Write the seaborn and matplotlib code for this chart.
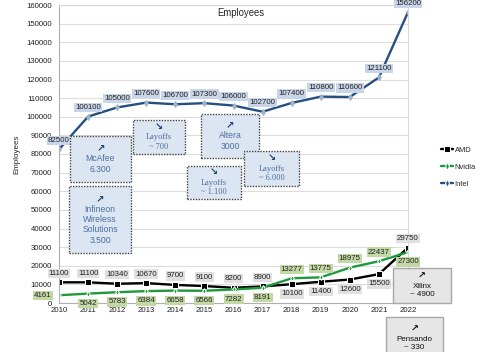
import matplotlib
matplotlib.use("Agg")
import matplotlib.pyplot as plt
import seaborn as sns
import pandas as pd
from matplotlib.patches import Rectangle

years = list(range(2010, 2023))
intel = [82500, 100100, 105000, 107600, 106700, 107300, 106000, 102700, 107400, 110800, 110600, 121100, 156200]
amd = [11100, 11100, 10340, 10670, 9700, 9100, 8200, 8900, 10100, 11400, 12600, 15500, 29750]
nvidia = [4161, 5042, 5783, 6384, 6658, 6566, 7282, 8191, 13277, 13775, 18975, 22437, 27300]
series_names = ["AMD", "Nvidia", "Intel"]
yticks = list(range(0, 160001, 10000))

df = pd.concat([
    pd.DataFrame({"Year": years, "Employees": amd, "Company": "AMD"}),
    pd.DataFrame({"Year": years, "Employees": nvidia, "Company": "Nvidia"}),
    pd.DataFrame({"Year": years, "Employees": intel, "Company": "Intel"}),
])

sns.set_theme(style="white")
plt.rcParams['font.family'] = ['Liberation Sans', 'DejaVu Sans']

W, H = 480, 352
fig = plt.figure(figsize=(4.8, 3.52), dpi=100)
ax = fig.add_axes([59 / W, 1 - 303 / H, (408 - 59) / W, (303 - 5) / H])

colors = {"AMD": "#000000", "Nvidia": "#1e9a3c", "Intel": "#23507f"}
markers = {"AMD": "s", "Nvidia": "d", "Intel": "d"}
sns.lineplot(data=df, x="Year", y="Employees", hue="Company", style="Company",
             palette=colors, markers=markers, dashes=False, linewidth=1.7,
             markersize=4, ax=ax, hue_order=series_names, style_order=series_names)
for l, name in zip(ax.lines[:3], series_names):
    if name == "AMD":
        l.set_markersize(5)
    elif name == "Intel":
        l.set_markersize(3)
        l.set_markerfacecolor("#9fb3cc")
        l.set_markeredgecolor("#9fb3cc")
    else:
        l.set_markersize(3)

ax.set_xlim(2010, 2022)
ax.set_ylim(0, 160000)
ax.set_yticks(yticks)
ax.set_xticks(years)
ax.tick_params(axis="both", labelsize=5.6, length=0, colors="#222222")
ax.tick_params(axis="y", pad=5)
ax.tick_params(axis="x", pad=3)
ax.yaxis.grid(True, color="#dcdcdc", linewidth=0.8)
ax.set_axisbelow(True)
for s in ax.spines.values():
    s.set_color("#d8d8d8")
    s.set_linewidth(0.8)
ax.spines["left"].set_color("#b0b0b0")
ax.spines["bottom"].set_color("#b0b0b0")
ax.set_xlabel("")
ax.set_ylabel("Employees", fontsize=5.8, labelpad=4)
ax.text(0.52, 0.99, "Employees", transform=ax.transAxes, ha="center", va="top", fontsize=6.9)

# legend
h, lb = ax.get_legend_handles_labels()
ax.legend(h, lb, loc="center left", bbox_to_anchor=(1.085, 0.455), frameon=False,
          fontsize=5.4, handlelength=1.7, handletextpad=0.15, labelspacing=1.3,
          borderaxespad=0)


def lab(x, y, txt, dx, dy, fc):
    ax.annotate(txt, (x, y), xytext=(dx, dy), textcoords="offset points",
                ha="center", va="center", fontsize=5.7, color="#222222",
                bbox=dict(boxstyle="square,pad=0.15", fc=fc, ec="none"),
                annotation_clip=False, zorder=5)


for yr, v in zip(years, intel):
    lab(yr, v, f"{v}", 0, 6.5, "#c9d6ea")
for yr, v in zip(years, amd):
    dy = -7 if 2018 <= yr <= 2021 else 6.5
    lab(yr, v, f"{v}", 0, dy, "#e0e0e0")
for yr, v in zip(years, nvidia):
    if yr == 2010:
        dx, dy = -11.5, 0
    elif 2018 <= yr <= 2021:
        dx, dy = 0, 6.5
    else:
        dx, dy = 0, -7
    lab(yr, v, f"{v}", dx, dy, "#c3d9a5")


def box(x0, y0, x1, y1, lines, arrow, fc, ec, ls, tc, ac, family, fs):
    r = Rectangle((x0 / W, 1 - y1 / H), (x1 - x0) / W, (y1 - y0) / H,
                  transform=fig.transFigure, fc=fc, ec=ec, ls=ls, lw=1.0,
                  clip_on=False, zorder=6)
    fig.add_artist(r)
    cx = (x0 + x1) / 2 / W
    nl = lines.count("\n") + 1
    line_px = fs * 1.389 * 1.2
    total = line_px * (nl + 1)
    top = (y0 + y1) / 2 - total / 2
    fig.text(cx, 1 - (top + line_px / 2) / H, arrow, ha="center", va="center",
             fontsize=fs + 1, color=ac, family=['DejaVu Sans'], weight="bold", zorder=7)
    fig.text(cx, 1 - (top + line_px + nl * line_px / 2) / H, lines, ha="center", va="center",
             fontsize=fs, color=tc, family=family, zorder=7, linespacing=1.2)


blue_fc = "#dce6f2"
dark = "#444444"
tb = "#4a6e9e"
ab = "#1f4373"
sans = ['Liberation Sans', 'DejaVu Sans']
serif = ['Liberation Serif', 'DejaVu Serif', 'DejaVu Sans']
dot = (0, (1, 1))
box(70, 136, 131, 182, "McAfee\n6.300", "↗", blue_fc, dark, dot, tb, ab, sans, 6.2)
box(69, 186, 131, 253, "Infineon\nWireless\nSolutions\n3.500", "↗", blue_fc, dark, dot, tb, ab, sans, 6.2)
box(133, 120, 185, 154, "Layoffs\n~ 700", "↘", blue_fc, dark, dot, tb, ab, serif, 6.0)
box(201, 114, 259, 158, "Altera\n3000", "↗", blue_fc, dark, dot, tb, ab, sans, 6.2)
box(187, 166, 241, 199, "Layoffs\n~ 1.100", "↘", blue_fc, dark, dot, tb, ab, serif, 6.0)
box(244, 151, 299, 186, "Layoffs\n~ 6.000", "↘", blue_fc, dark, dot, tb, ab, serif, 6.0)
box(393, 268, 451, 303, "Xilinx\n~ 4900", "↗", "#e6e6e6", "#a8a8a8", "-", "#111111", "#111111", sans, 5.8)
box(386, 317, 443, 360, "Pensando\n~ 330", "↗", "#e6e6e6", "#a8a8a8", "-", "#111111", "#111111", sans, 5.8)

fig.savefig("out.png", dpi=100)
